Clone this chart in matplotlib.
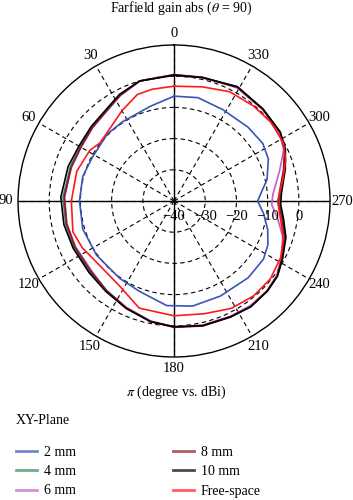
import matplotlib.pyplot as plt
from matplotlib.lines import Line2D
from matplotlib.transforms import offset_copy
import numpy as np

plt.rcParams['font.family'] = ['Liberation Serif', 'DejaVu Serif']
plt.rcParams['mathtext.fontset'] = 'stix'

# angle (deg) and gain (dBi)
ang_2mm = [0, 14, 33, 45, 62, 75, 90, 107, 125, 145, 159, 176, 190, 206, 224,
           237, 245, 253, 262, 270, 277, 283, 294, 303, 315, 332, 347]
gain_2mm = [-6.4, -8.7, -9.7, -9.7, -10.3, -9.7, -9.7, -9.4, -9.7, -9.7, -9.0, -6.4, -5.8, -6.1, -5.8,
            -5.8, -6.8, -8.6, -11.0, -13.2, -11.5, -9.4, -6.9, -6.1, -6.5, -6.8, -6.0]

ang_mm = [0, 16, 27, 36, 48, 60, 72, 88, 102, 115, 130, 143, 156, 169, 180, 193,
          206, 216, 226, 234, 242, 252, 261, 268, 274, 286, 295, 303, 316, 331, 347]
gain_4mm = [0.4, 0.0, -1.8, -3.6, -4.6, -5.2, -5.0, -4.4, -4.5, -4.7, -4.8, -3.9, -2.4, -0.6, 0.4, 1.0,
            1.3, 1.8, 1.5, 0.9, -0.7, -2.6, -4.8, -6.2, -5.9, -3.2, -0.7, 0.5, 1.0, 1.8, 0.6]
gain_6mm = [0.5, 0.0, -2.1, -3.9, -4.9, -5.6, -5.4, -4.9, -4.9, -5.2, -5.4, -4.0, -2.6, -0.8, 0.3, 0.8,
            1.1, 1.5, 1.4, 0.7, -1.0, -3.4, -6.5, -8.7, -8.2, -4.8, -1.2, 0.2, 0.8, 1.5, 0.6]
gain_8mm = [0.5, 0.0, -2.0, -3.8, -4.8, -5.5, -5.3, -4.8, -4.8, -5.0, -5.1, -4.1, -2.5, -0.7, 0.5, 1.1,
            1.4, 1.8, 1.5, 0.8, -0.9, -2.8, -5.0, -6.5, -6.2, -3.5, -0.9, 0.5, 1.0, 1.7, 0.7]
gain_10mm = [0.3, 0.0, -1.6, -3.4, -4.3, -4.8, -4.3, -3.7, -3.9, -4.3, -4.4, -3.7, -2.3, -0.6, 0.3, 1.0,
             1.3, 1.9, 1.6, 1.0, -0.6, -2.3, -4.5, -5.8, -5.5, -2.9, -0.6, 0.6, 1.0, 1.9, 0.6]

ang_free = [0, 11, 19, 30, 45, 52, 59, 73, 90, 107, 117, 133, 147, 162, 180,
            195, 208, 220, 231, 242, 251, 261, 270, 281, 290, 298, 309, 320, 333, 346]
gain_free = [-3.2, -3.5, -3.9, -6.6, -9.4, -9.8, -8.5, -7.4, -7.1, -6.1, -7.0, -8.5, -7.7, -3.9, -3.2,
             -2.6, -1.0, -0.3, -0.3, -1.3, -2.9, -5.5, -6.8, -4.5, -1.9, -0.3, 0.0, -0.3, -0.7, -2.3]

series = [("4 mm", ang_mm, gain_4mm, "#2e8b57"),
          ("6 mm", ang_mm, gain_6mm, "#c45ec8"),
          ("8 mm", ang_mm, gain_8mm, "#8b1a2a"),
          ("10 mm", ang_mm, gain_10mm, "black"),
          ("2 mm", ang_2mm, gain_2mm, "#3a55b8"),
          ("Free-space", ang_free, gain_free, "#ff1a1a")]
legend_order = ["2 mm", "4 mm", "6 mm", "8 mm", "10 mm", "Free-space"]

r_ticks = [-40, -30, -20, -10, 0]
theta_ticks = list(range(0, 360, 30))

fig = plt.figure(figsize=(3.53, 5.0), dpi=100)
ax = fig.add_axes([0.051, 0.286, 0.884, 0.624], projection='polar')
ax.set_theta_zero_location('N')
ax.set_theta_direction(1)
ax.set_rlim(-40, 10)
ax.set_rgrids(r_ticks, labels=[''] * len(r_ticks))
ax.set_thetagrids(theta_ticks, labels=[str(t) for t in theta_ticks])
ax.tick_params(axis='x', pad=-2, labelsize=10.5)
ax.grid(True, color='black', lw=0.8, ls=(0, (4, 3)))
ax.spines['polar'].set_linewidth(1.0)

# solid cross lines
for t in [0, 90, 180, 270]:
    ax.plot([np.deg2rad(t)] * 2, [-40, 10], color='black', lw=1.0, zorder=2)

handles = {}
for name, a, g, c in series:
    ax.plot(np.deg2rad(a + [a[0] + 360]), g + [g[0]], color=c, lw=1.2, zorder=3)
    handles[name] = Line2D([], [], color=c, lw=2, alpha=0.7)

# radial labels below the 270 direction
tr = offset_copy(ax.transData, fig=fig, x=0, y=-15, units='dots')
for v in r_ticks:
    ax.text(np.deg2rad(270), v, str(v).replace('-', '\u2212'), transform=tr,
            ha='center', va='center', fontsize=10.5)

fig.text(0.513, 0.984, r'Farfield gain abs ($\theta$ = 90)', ha='center', va='center', fontsize=10)
fig.text(0.5, 0.216, r'$\pi$ (degree vs. dBi)', ha='center', va='center', fontsize=10)
fig.text(0.045, 0.158, 'XY-Plane', ha='left', va='center', fontsize=10)

fig.legend([handles[n] for n in legend_order], legend_order, ncol=2,
           loc='upper left', bbox_to_anchor=(0.046, 0.108), frameon=False,
           fontsize=10, handlelength=1.5, handletextpad=0.5,
           columnspacing=7.0, labelspacing=0.45, borderaxespad=0, borderpad=0)

fig.savefig('out.png', dpi=100)
